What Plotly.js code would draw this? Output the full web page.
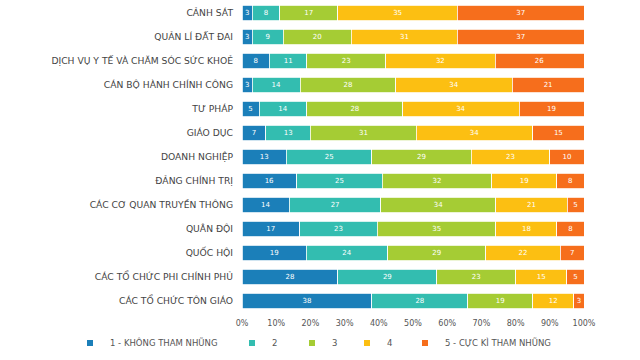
<!DOCTYPE html>
<html><head><meta charset="utf-8">
<script src="https://cdn.plot.ly/plotly-3.0.1.min.js"></script>
<style>html,body{margin:0;padding:0;background:#fff}#chart{width:640px;height:360px}</style>
</head><body><div id="chart"></div>
<script>
const categories = ["CẢNH SÁT","QUẢN LÍ ĐẤT ĐAI","DỊCH VỤ Y TẾ VÀ CHĂM SÓC SỨC KHOẺ","CÁN BỘ HÀNH CHÍNH CÔNG","TƯ PHÁP","GIÁO DỤC","DOANH NGHIỆP","ĐẢNG CHÍNH TRỊ","CÁC CƠ QUAN TRUYỀN THÔNG","QUÂN ĐỘI","QUỐC HỘI","CÁC TỔ CHỨC PHI CHÍNH PHỦ","CÁC TỔ CHỨC TÔN GIÁO"];
const s1 = [3,3,8,3,5,7,13,16,14,17,19,28,38];
const s2 = [8,9,11,14,14,13,25,25,27,23,24,29,28];
const s3 = [17,20,23,28,28,31,29,32,34,35,29,23,19];
const s4 = [35,31,32,34,34,34,23,19,21,18,22,15,12];
const s5 = [37,37,26,21,19,15,10,8,5,8,7,5,3];
const seriesNames = ["1 - KHÔNG THAM NHŨNG","2","3","4","5 - CỰC KÌ THAM NHŨNG"];
const colors = ["#1b7fb9","#33bdb0","#a5cc34","#fcbf12","#f66e1c"];
const tickVals = [0,10,20,30,40,50,60,70,80,90,100];
const tickText = ["0%","10%","20%","30%","40%","50%","60%","70%","80%","90%","100%"];

const all = [s1,s2,s3,s4,s5];
const legendIds = ['legend','legend2','legend3','legend4','legend5'];
const legendTextX = [110,272,332,387,445];
const FONT = 'DejaVu Sans, Verdana, sans-serif';
const traces = all.map((s,i)=>({
  type:'bar', orientation:'h', y:categories, x:s, name:seriesNames[i],
  marker:{color:colors[i], line:{color:'#ffffff', width:0.8}},
  text:s.map(String), textposition:'inside', insidetextanchor:'middle', textangle:0,
  textfont:{family:FONT, size:7, color:'#ffffff'},
  hoverinfo:'x+y+name', showlegend:false
}));
// legend-only entries with small square symbols
all.forEach((s,i)=>{
  traces.push({type:'scatter', mode:'markers', x:[null], y:[null], name:seriesNames[i],
    marker:{symbol:'square', size:6, color:colors[i]}, legend:legendIds[i], showlegend:true, hoverinfo:'skip'});
});
const layout = {
  width:640, height:360, barmode:'stack', barnorm:'percent', bargap:0.36,
  margin:{l:242,r:56,t:1,b:47},
  paper_bgcolor:'#fff', plot_bgcolor:'#fff',
  uniformtext:{minsize:7, mode:'show'},
  font:{family:FONT, color:'#444'},
  xaxis:{range:[0,100], tickvals:tickVals, ticktext:tickText, showgrid:false, zeroline:false, showline:false, ticks:'', ticklabelstandoff:4, tickfont:{size:8, color:'#555'}, fixedrange:true},
  yaxis:{type:'category', autorange:'reversed', showgrid:false, zeroline:false, ticks:'', ticklabelstandoff:8, tickfont:{size:9.2, color:'#444'}},
  showlegend:true
};
legendIds.forEach((id,i)=>{
  layout[id] = {orientation:'h', xref:'container', yref:'container', x:(legendTextX[i]-40)/640, xanchor:'left', y:1-343/360, yanchor:'middle', font:{size:8.5, color:'#555'}, bgcolor:'rgba(0,0,0,0)', borderwidth:0};
});
Plotly.newPlot('chart', traces, layout, {displayModeBar:false, staticPlot:true});
</script></body></html>
